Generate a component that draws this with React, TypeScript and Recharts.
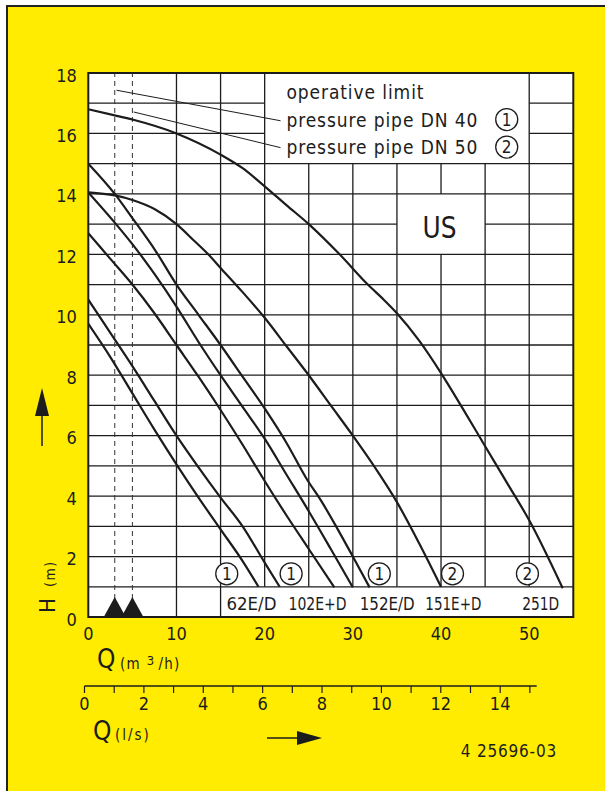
import React from 'react';
import {
  ComposedChart,
  Line,
  XAxis,
  YAxis,
  ReferenceLine,
  ReferenceArea,
  ReferenceDot,
} from 'recharts';

// ---------- data ----------
const qTicks = [0, 10, 20, 30, 40, 50];
const hTicks = [0, 2, 4, 6, 8, 10, 12, 14, 16, 18];
const lsTicks = [0, 1, 2, 3, 4, 5, 6, 7, 8, 9, 10, 11, 12, 13, 14, 15];
const hGridLevels = [1, 2, 3, 4, 5, 6, 7, 8, 9, 10, 11, 12, 13, 14, 15, 16, 17];
const qGridLines = [10, 15, 20, 25, 30, 35, 40, 45, 50];
const markerQ = [3, 5];

// pump curves (Q m3/h -> H m)
const curveAq = [0, 3, 5, 10, 15, 17.5, 20, 22.5, 25, 28.5, 31.7, 33.5, 35, 37.5, 40, 42.5, 45, 47.5, 50, 53.8];
const curveAh = [16.8, 16.6, 16.46, 16.0, 15.3, 14.85, 14.25, 13.62, 13.0, 12.0, 11.0, 10.5, 10.05, 9.15, 8.07, 6.88, 5.65, 4.43, 3.2, 0.95];

const curveBq = [0, 3, 5, 7.5, 10, 12, 13.6, 15, 17.5, 20, 22.5, 25, 27.5, 30, 32.5, 35, 37.5, 40];
const curveBh = [14.05, 13.95, 13.8, 13.5, 13.0, 12.45, 12.0, 11.55, 10.75, 9.9, 8.95, 8.0, 7.0, 6.0, 4.95, 3.8, 2.45, 1.0];

const curveCq = [0, 3, 5, 7.55, 10, 12.5, 15, 17.5, 20, 22.5, 24.7, 26.5, 28.1, 30, 31.9];
const curveCh = [15.0, 14.0, 13.2, 12.15, 11.0, 10.0, 9.0, 7.95, 6.9, 5.75, 4.6, 3.8, 3.0, 2.0, 0.98];

const curveDq = [0, 3, 5.5, 7.5, 10, 12.5, 15, 17.5, 20, 22.5, 25, 27.5, 30];
const curveDh = [14.05, 13.05, 12.15, 11.35, 10.27, 9.1, 8.0, 6.95, 5.9, 4.7, 3.5, 2.25, 0.98];

const curveEq = [0, 2.5, 5, 7.5, 10, 12.5, 15, 17.5, 20, 22.5, 25, 27.9];
const curveEh = [12.7, 11.85, 11.0, 10.05, 9.0, 7.95, 6.85, 5.7, 4.5, 3.35, 2.25, 0.98];

const curveFq = [0, 2.5, 5, 7.5, 10, 12.5, 15, 17.5, 20, 21.7];
const curveFh = [10.5, 9.4, 8.3, 7.15, 6.0, 4.95, 3.95, 3.0, 1.8, 1.0];

const curveGq = [0, 2.5, 5, 7.5, 10, 12.5, 15, 17.5, 19.3];
const curveGh = [9.7, 8.6, 7.4, 6.2, 5.05, 3.95, 2.9, 1.85, 1.0];

// leader lines from the limit markers to the legend texts
const leader40q = [3.2, 21.8];
const leader40h = [17.43, 16.42];
const leader50q = [5.15, 21.8];
const leader50h = [16.71, 15.53];

// annotations
const legendLines = ['operative limit', 'pressure pipe DN 40', 'pressure pipe DN 50'];
const legendTextQ = 22.47;
const legendTextH = [17.14, 16.21, 15.33];
const legendMarks = ['1', '2'];
const legendMarkQ = 47.45;
const legendMarkH = [16.46, 15.55];

const modelLabels = ['62E/D', '102E+D', '152E/D', '151E+D', '251D'];
const modelLabelQ = [18.5, 26.0, 33.9, 41.4, 51.3];
const modelLabelH = 0.23;
const pipeMarks = ['1', '1', '1', '2', '2'];
const pipeMarkQ = [15.7, 23.0, 33.0, 41.3, 49.8];
const pipeMarkH = 1.43;

const regionLabel = 'US';
const regionQ = 39.83;
const regionH = 12.54;

// white boxes without grid
const boxes = [
  { q1: 20, q2: 50, h1: 15, h2: 18 },
  { q1: 35, q2: 45, h1: 12, h2: 14 },
  { q1: 15, q2: 55, h1: 0, h2: 1 },
];

// ---------- styling ----------
const FONT = "'Liberation Sans Narrow', 'DejaVu Sans Condensed', 'Arial Narrow', sans-serif";
const INK = '#1c1c1c';
const YELLOW = '#FFEC00';
const Q_MAX = 55;
const H_MAX = 18;

const zip = (qs: number[], hs: number[]) => qs.map((q, i) => ({ q, h: hs[i] }));
const curves = [
  zip(curveAq, curveAh),
  zip(curveBq, curveBh),
  zip(curveCq, curveCh),
  zip(curveDq, curveDh),
  zip(curveEq, curveEh),
  zip(curveFq, curveFh),
  zip(curveGq, curveGh),
];
const leaders = [zip(leader40q, leader40h), zip(leader50q, leader50h)];

function subtract(span: [number, number], cuts: [number, number][]): [number, number][] {
  let spans: [number, number][] = [span];
  cuts.forEach(([a, b]) => {
    const next: [number, number][] = [];
    spans.forEach(([s, e]) => {
      if (b <= s || a >= e) next.push([s, e]);
      else {
        if (a > s) next.push([s, a]);
        if (b < e) next.push([b, e]);
      }
    });
    spans = next;
  });
  return spans;
}

const hSegments: { y: number; x1: number; x2: number }[] = [];
hGridLevels.forEach((y) => {
  const cuts = boxes.filter((b) => y > b.h1 && y < b.h2).map((b) => [b.q1, b.q2] as [number, number]);
  subtract([0, Q_MAX], cuts).forEach(([x1, x2]) => hSegments.push({ y, x1, x2 }));
});
const vSegments: { x: number; y1: number; y2: number }[] = [];
qGridLines.forEach((x) => {
  const cuts = boxes.filter((b) => x > b.q1 && x < b.q2).map((b) => [b.h1, b.h2] as [number, number]);
  subtract([0, H_MAX], cuts).forEach(([y1, y2]) => vSegments.push({ x, y1, y2 }));
});

const XTick = (p: any) => (
  <text x={p.x} y={p.y + 15} textAnchor="middle" fontFamily={FONT} fontSize={18} fill={INK}>
    {p.payload.value}
  </text>
);
const YTick = (p: any) => (
  <text x={p.x - 3.5} y={p.y + 8.5} textAnchor="end" fontFamily={FONT} fontSize={18} fill={INK}>
    {p.payload.value}
  </text>
);
const LsTick = (p: any) =>
  p.payload.value % 2 === 0 ? (
    <text x={p.x} y={p.y + 15} textAnchor="middle" fontFamily={FONT} fontSize={18} fill={INK}>
      {p.payload.value}
    </text>
  ) : (
    <g />
  );

const circledMark = (txt: string) => (p: any) => (
  <g>
    <circle cx={p.cx} cy={p.cy} r={11} fill="#fff" stroke={INK} strokeWidth={1.3} />
    <text x={p.cx} y={p.cy + 6} textAnchor="middle" fontFamily={FONT} fontSize={17} fill={INK}>
      {txt}
    </text>
  </g>
);

const textMark = (txt: string, size: number, anchor: string, spacing?: number, len?: number) => (p: any) => (
  <text
    x={p.cx}
    y={p.cy}
    textAnchor={anchor}
    fontFamily={FONT}
    fontSize={size}
    fill={INK}
    letterSpacing={spacing}
    textLength={len}
    lengthAdjust={len ? 'spacingAndGlyphs' : undefined}
  >
    {txt}
  </text>
);

const triangleMark = (p: any) => (
  <polygon points={`${p.cx - 11},${p.cy} ${p.cx},${p.cy - 20} ${p.cx + 11},${p.cy}`} fill={INK} />
);

const legendSpacing = [0.9, 0.9, 0.9];
const modelLens = [50, 58, 55, 56, 37];

export default function App() {
  return (
    <div
      style={{
        position: 'absolute',
        left: 0,
        top: 0,
        width: 605,
        height: 791,
        background: '#fff',
        overflow: 'hidden',
      }}
    >
      <div
        style={{
          position: 'absolute',
          left: 6,
          top: 5,
          width: 599,
          height: 786,
          background: YELLOW,
          boxSizing: 'border-box',
          borderLeft: '2px solid #222',
          borderTop: '2px solid #222',
        }}
      />
      <div style={{ position: 'absolute', left: 88.3, top: 73, width: 485, height: 544, background: '#fff' }} />
      <div style={{ position: 'absolute', left: 0, top: 0 }}>
        <ComposedChart width={605} height={791} margin={{ top: 73, right: 31.7, bottom: 144, left: 48.3 }}>
          <XAxis
            dataKey="q"
            type="number"
            domain={[0, Q_MAX]}
            ticks={qTicks}
            interval={0}
            height={30}
            tickLine={false}
            axisLine={false}
            tick={XTick}
            allowDataOverflow
          />
          <YAxis
            type="number"
            domain={[0, H_MAX]}
            ticks={hTicks}
            interval={0}
            width={40}
            tickLine={false}
            axisLine={false}
            tick={YTick}
            allowDataOverflow
          />
          {hSegments.map((s, i) => (
            <ReferenceLine
              key={`h${i}`}
              segment={[{ x: s.x1, y: s.y }, { x: s.x2, y: s.y }]}
              stroke={INK}
              strokeWidth={1.3}
            />
          ))}
          {vSegments.map((s, i) => (
            <ReferenceLine
              key={`v${i}`}
              segment={[{ x: s.x, y: s.y1 }, { x: s.x, y: s.y2 }]}
              stroke={INK}
              strokeWidth={1.3}
            />
          ))}
          {markerQ.map((q) => (
            <ReferenceLine
              key={`d${q}`}
              segment={[{ x: q, y: 0 }, { x: q, y: H_MAX }]}
              stroke="#333"
              strokeWidth={1}
              strokeDasharray="5 4"
            />
          ))}
          <ReferenceArea x1={15.05} x2={54.95} y1={0.03} y2={0.97} fill="#fff" fillOpacity={1} stroke="none" />
          <ReferenceArea x1={0} x2={Q_MAX} y1={0} y2={H_MAX} fill="none" stroke={INK} strokeWidth={2} ifOverflow="visible" />
          {curves.map((d, i) => (
            <Line
              key={`c${i}`}
              data={d}
              dataKey="h"
              type="monotone"
              stroke={INK}
              strokeWidth={2.2}
              dot={false}
              activeDot={false}
              isAnimationActive={false}
            />
          ))}
          {leaders.map((d, i) => (
            <Line
              key={`l${i}`}
              data={d}
              dataKey="h"
              type="linear"
              stroke={INK}
              strokeWidth={1}
              dot={false}
              activeDot={false}
              isAnimationActive={false}
            />
          ))}
          {markerQ.map((q) => (
            <ReferenceDot key={`t${q}`} x={q} y={0} r={0} shape={triangleMark} ifOverflow="visible" />
          ))}
          {legendLines.map((t, i) => (
            <ReferenceDot
              key={`lg${i}`}
              x={legendTextQ}
              y={legendTextH[i]}
              r={0}
              shape={textMark(t, 19, 'start', legendSpacing[i])}
            />
          ))}
          {legendMarks.map((t, i) => (
            <ReferenceDot key={`lm${i}`} x={legendMarkQ} y={legendMarkH[i]} r={0} shape={circledMark(t)} />
          ))}
          <ReferenceDot x={regionQ} y={regionH} r={0} shape={textMark(regionLabel, 31, 'middle', undefined, 34)} />
          {pipeMarks.map((t, i) => (
            <ReferenceDot key={`pm${i}`} x={pipeMarkQ[i]} y={pipeMarkH} r={0} shape={circledMark(t)} />
          ))}
          {modelLabels.map((t, i) => (
            <ReferenceDot
              key={`ml${i}`}
              x={modelLabelQ[i]}
              y={modelLabelH}
              r={0}
              shape={textMark(t, 18, 'middle', undefined, modelLens[i])}
            />
          ))}
        </ComposedChart>
      </div>
      <div style={{ position: 'absolute', left: 0, top: 666 }}>
        <ComposedChart
          width={605}
          height={60}
          data={[{ v: 0 }, { v: 15 }]}
          margin={{ top: 0, right: 68.3, bottom: 0, left: 84.5 }}
        >
          <XAxis
            dataKey="v"
            type="number"
            domain={[0, 15.23]}
            ticks={lsTicks}
            interval={0}
            height={40}
            tickSize={7}
            tickLine={{ stroke: INK, strokeWidth: 1.2 }}
            axisLine={{ stroke: INK, strokeWidth: 1.5 }}
            tick={LsTick}
            allowDataOverflow
          />
          <YAxis hide width={0} domain={[0, 1]} />
        </ComposedChart>
      </div>
      <svg
        width={605}
        height={791}
        style={{ position: 'absolute', left: 0, top: 0, pointerEvents: 'none' }}
      >
        <g transform="translate(55,613) rotate(-90)">
          <text x={0} y={0} fontFamily={FONT} fontSize={22} fill={INK}>H</text>
          <text x={26} y={0} fontFamily={FONT} fontSize={14} fill={INK} letterSpacing={1.5}>(m)</text>
        </g>
        <polygon points="42,388 35,416 49,416" fill={INK} />
        <line x1={42} y1={414} x2={42} y2={446} stroke={INK} strokeWidth={1.5} />
        <text x={97} y={668} fontFamily={FONT} fontSize={26} fill={INK}>Q</text>
        <text x={120} y={669} fontFamily={FONT} fontSize={15} fill={INK} letterSpacing={1.2}>
          (m
          <tspan dx={6} dy={-4} fontSize={13}>3</tspan>
          <tspan dx={3} dy={4}>/h)</tspan>
        </text>
        <text x={93} y={740} fontFamily={FONT} fontSize={26} fill={INK}>Q</text>
        <text x={115} y={740} fontFamily={FONT} fontSize={15} fill={INK} letterSpacing={2}>(l/s)</text>
        <line x1={267} y1={738} x2={300} y2={738} stroke={INK} strokeWidth={1.5} />
        <polygon points="297,731 322,738 297,745" fill={INK} />
        <text x={557} y={757} textAnchor="end" fontFamily={FONT} fontSize={17} fill={INK} letterSpacing={0.8}>
          4 25696-03
        </text>
      </svg>
    </div>
  );
}
